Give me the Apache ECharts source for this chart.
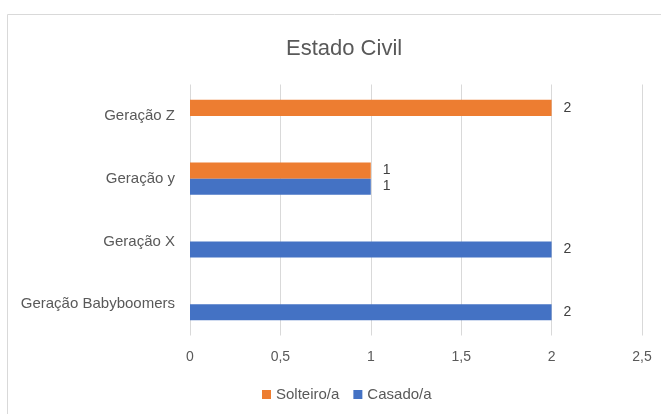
<!DOCTYPE html>
<html>
<head>
<meta charset="utf-8">
<script src="https://cdn.jsdelivr.net/npm/echarts@6/dist/echarts.min.js"></script>
<style>
    html, body { margin: 0; padding: 0; background: #fff; }
    #chart { width: 661px; height: 414px; }
</style>
</head>
<body>
<div id="chart"></div>
<script>
    // dados do gráfico
    const categorias = ['Geração Babyboomers', 'Geração X', 'Geração y', 'Geração Z'];
    const solteiro = ['-', '-', 1, 2];
    const casado = [2, 2, 1, '-'];
    const ticksX = [0, 0.5, 1, 1.5, 2, 2.5];

    const fonte = 'Liberation Sans';
    const chart = echarts.init(document.getElementById('chart'));

    chart.setOption({
        animation: false,
        textStyle: { fontFamily: fonte },
        graphic: [{
            type: 'rect',
            shape: { x: 7.5, y: 14.5, width: 700, height: 500 },
            style: { fill: 'none', stroke: '#d9d9d9', lineWidth: 1 }
        }],
        title: {
            text: 'Estado Civil',
            left: 281,
            top: 33,
            textStyle: { fontSize: 22, fontWeight: 'normal', color: '#595959', fontFamily: fonte }
        },
        legend: {
            bottom: 7,
            left: 257,
            itemWidth: 9,
            itemHeight: 9,
            itemGap: 14,
            icon: 'rect',
            textStyle: { fontSize: 15, color: '#595959', fontFamily: fonte },
            data: ['Solteiro/a', 'Casado/a']
        },
        grid: { left: 190, right: 19, top: 84.5, bottom: 78.5 },
        xAxis: {
            type: 'value',
            min: ticksX[0],
            max: ticksX[ticksX.length - 1],
            interval: 0.5,
            axisLine: { show: false },
            axisTick: { show: false },
            splitLine: { lineStyle: { color: '#d9d9d9' } },
            axisLabel: {
                fontSize: 14,
                color: '#595959',
                margin: 15,
                formatter: v => String(v).replace('.', ',')
            }
        },
        yAxis: {
            type: 'category',
            data: categorias,
            axisLine: { show: false },
            axisTick: { show: false },
            axisLabel: { fontSize: 15, color: '#595959', margin: 15 }
        },
        series: [
            {
                name: 'Solteiro/a',
                type: 'bar',
                data: solteiro,
                itemStyle: { color: '#ED7D31' },
                barGap: '0%',
                barCategoryGap: '49%',
                label: { show: true, position: 'right', distance: 12, fontSize: 14, color: '#404040' }
            },
            {
                name: 'Casado/a',
                type: 'bar',
                data: casado,
                itemStyle: { color: '#4472C4' },
                barGap: '0%',
                barCategoryGap: '49%',
                label: { show: true, position: 'right', distance: 12, fontSize: 14, color: '#404040' }
            }
        ]
    });
</script>
</body>
</html>
